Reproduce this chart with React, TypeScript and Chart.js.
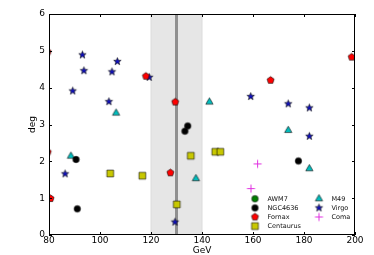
import React, { useEffect, useRef } from 'react';
import { Chart, registerables } from 'chart.js';
Chart.register(...registerables);

const FONT = 'DejaVu Sans';

const awm7X: number[] = [];
const awm7Y: number[] = [];
const ngc4636X = [90.6, 91.1, 134.4, 133.3, 177.8];
const ngc4636Y = [2.05, 0.71, 2.96, 2.82, 2.01];
const fornaxX = [79.5, 198.7, 80.6, 118.0, 129.5, 127.6, 166.9, 79.5];
const fornaxY = [4.97, 4.83, 0.99, 4.31, 3.61, 1.69, 4.2, 2.25];
const centaurusX = [104.0, 116.6, 130.1, 135.6, 145.2, 147.2];
const centaurusY = [1.67, 1.61, 0.83, 2.15, 2.26, 2.26];
const m49X = [88.6, 106.3, 142.9, 137.6, 173.8, 182.1];
const m49Y = [2.14, 3.31, 3.61, 1.53, 2.84, 1.8];
const virgoX = [93.1, 93.7, 89.3, 106.8, 104.7, 103.5, 119.3, 86.3, 129.4, 159.1, 173.8, 182.1, 182.1];
const virgoY = [4.89, 4.46, 3.91, 4.71, 4.43, 3.62, 4.28, 1.66, 0.35, 3.76, 3.56, 3.45, 2.68];
const comaX = [161.8, 159.2];
const comaY = [1.93, 1.26];

const BAND = [120, 140];
const LINE_AT = 130;
const X_TICKS = [80, 100, 120, 140, 160, 180, 200];
const Y_TICKS = [0, 1, 2, 3, 4, 5, 6];

const SERIES = [
  { label: 'AWM7', xs: awm7X, ys: awm7Y, kind: 'circle', color: '#008000' },
  { label: 'NGC4636', xs: ngc4636X, ys: ngc4636Y, kind: 'circle', color: '#000000' },
  { label: 'Fornax', xs: fornaxX, ys: fornaxY, kind: 'pentagon', color: '#ff0000' },
  { label: 'Centaurus', xs: centaurusX, ys: centaurusY, kind: 'square', color: '#c8c800' },
  { label: 'M49', xs: m49X, ys: m49Y, kind: 'triangle', color: '#00bfbf' },
  { label: 'Virgo', xs: virgoX, ys: virgoY, kind: 'star', color: '#1010c0' },
  { label: 'Coma', xs: comaX, ys: comaY, kind: 'plus', color: '#e030e0' },
];

function makeMarker(kind: string, fill: string): HTMLCanvasElement {
  const size = 11;
  const c = document.createElement('canvas');
  c.width = size;
  c.height = size;
  const ctx = c.getContext('2d')!;
  const cx = size / 2;
  const cy = size / 2;
  ctx.fillStyle = fill;
  ctx.strokeStyle = '#000';
  ctx.lineWidth = 0.6;
  ctx.beginPath();
  if (kind === 'circle') {
    ctx.arc(cx, cy, 3.2, 0, Math.PI * 2);
  } else if (kind === 'square') {
    ctx.rect(cx - 3.4, cy - 3.4, 6.8, 6.8);
  } else if (kind === 'triangle') {
    const r = 4.2;
    ctx.moveTo(cx, cy - r);
    ctx.lineTo(cx + r * 0.866, cy + r * 0.5);
    ctx.lineTo(cx - r * 0.866, cy + r * 0.5);
  } else if (kind === 'pentagon') {
    const r = 3.7;
    for (let i = 0; i < 5; i++) {
      const a = -Math.PI / 2 + (i * 2 * Math.PI) / 5;
      const px = cx + r * Math.cos(a);
      const py = cy + r * Math.sin(a);
      if (i === 0) ctx.moveTo(px, py);
      else ctx.lineTo(px, py);
    }
  } else if (kind === 'star') {
    const ro = 3.9;
    const ri = 1.6;
    for (let i = 0; i < 10; i++) {
      const a = -Math.PI / 2 + (i * Math.PI) / 5;
      const r = i % 2 === 0 ? ro : ri;
      const px = cx + r * Math.cos(a);
      const py = cy + r * Math.sin(a);
      if (i === 0) ctx.moveTo(px, py);
      else ctx.lineTo(px, py);
    }
  } else if (kind === 'plus') {
    ctx.strokeStyle = fill;
    ctx.lineWidth = 1;
    ctx.moveTo(cx - 4, cy);
    ctx.lineTo(cx + 4, cy);
    ctx.moveTo(cx, cy - 4);
    ctx.lineTo(cx, cy + 4);
    ctx.stroke();
    return c;
  }
  ctx.closePath();
  ctx.fill();
  ctx.stroke();
  return c;
}

export default function App() {
  const ref = useRef<HTMLCanvasElement | null>(null);
  useEffect(() => {
    if (!ref.current) return;
    const markers = SERIES.map((s) => makeMarker(s.kind, s.color));

    const bandPlugin = {
      id: 'band',
      beforeDatasetsDraw(chart: any) {
        const { ctx, chartArea } = chart;
        const xs = chart.scales.x;
        const x0 = xs.getPixelForValue(BAND[0]);
        const x1 = xs.getPixelForValue(BAND[1]);
        ctx.save();
        ctx.fillStyle = '#e6e6e6';
        ctx.fillRect(x0, chartArea.top, x1 - x0, chartArea.bottom - chartArea.top);
        ctx.strokeStyle = '#dcdcdc';
        ctx.lineWidth = 1;
        ctx.beginPath();
        ctx.moveTo(x0, chartArea.top);
        ctx.lineTo(x0, chartArea.bottom);
        ctx.moveTo(x1, chartArea.top);
        ctx.lineTo(x1, chartArea.bottom);
        ctx.stroke();
        const xl = xs.getPixelForValue(LINE_AT);
        ctx.strokeStyle = '#909090';
        ctx.lineWidth = 3;
        ctx.beginPath();
        ctx.moveTo(xl, chartArea.top);
        ctx.lineTo(xl, chartArea.bottom);
        ctx.stroke();
        ctx.restore();
      },
    };

    const framePlugin = {
      id: 'frame',
      afterDraw(chart: any) {
        const { ctx, chartArea } = chart;
        const { left, right, top, bottom } = chartArea;
        ctx.save();
        ctx.strokeStyle = '#000';
        ctx.lineWidth = 1;
        ctx.strokeRect(left + 0.5, top + 0.5, right - left - 1, bottom - top - 1);
        ctx.beginPath();
        const tl = 3;
        X_TICKS.forEach((v) => {
          const px = Math.round(chart.scales.x.getPixelForValue(v)) + 0.5;
          ctx.moveTo(px, bottom);
          ctx.lineTo(px, bottom - tl);
          ctx.moveTo(px, top);
          ctx.lineTo(px, top + tl);
        });
        Y_TICKS.forEach((v) => {
          const py = Math.round(chart.scales.y.getPixelForValue(v)) + 0.5;
          ctx.moveTo(left, py);
          ctx.lineTo(left + tl, py);
          ctx.moveTo(right, py);
          ctx.lineTo(right - tl, py);
        });
        ctx.stroke();

        // legend
        ctx.font = `6.5px "${FONT}"`;
        ctx.fillStyle = '#111';
        ctx.textBaseline = 'middle';
        ctx.textAlign = 'left';
        const rowH = 9.1;
        const y0 = bottom - 36.2;
        chart.data.datasets.forEach((ds: any, i: number) => {
          const col = i < 4 ? 0 : 1;
          const row = i < 4 ? i : i - 4;
          const mx = right - 100 + col * 64;
          const my = y0 + row * rowH;
          const m = markers[i];
          ctx.drawImage(m, mx - m.width / 2, my - m.height / 2);
          ctx.fillText(ds.label, mx + 12.5, my + 0.5);
        });
        ctx.restore();
      },
    };

    const chart = new Chart(ref.current, {
      type: 'scatter',
      data: {
        datasets: SERIES.map((s, i) => ({
          label: s.label,
          data: s.xs.map((x, j) => ({ x, y: s.ys[j] })),
          pointStyle: markers[i] as any,
          pointRadius: 4,
          clip: 0,
        })),
      },
      options: {
        animation: false,
        responsive: true,
        maintainAspectRatio: false,
        layout: { padding: { left: 0, right: 19, top: 14, bottom: 0 } },
        plugins: { legend: { display: false }, tooltip: { enabled: false } },
        scales: {
          x: {
            type: 'linear',
            min: 80,
            max: 200,
            afterFit: (s: any) => {
              s.height = 20;
            },
            afterBuildTicks: (s: any) => {
              s.ticks = X_TICKS.map((v) => ({ value: v }));
            },
            ticks: { padding: 0, color: '#000', font: { family: FONT, size: 9 }, maxRotation: 0 },
            grid: { display: false, drawTicks: false, tickLength: 0 },
            border: { display: false },
            title: {
              display: true,
              text: 'GeV',
              color: '#000',
              font: { family: FONT, size: 9, lineHeight: 1 },
              padding: 0,
            },
          },
          y: {
            type: 'linear',
            min: 0,
            max: 6,
            afterFit: (s: any) => {
              s.width = 49;
            },
            afterBuildTicks: (s: any) => {
              s.ticks = Y_TICKS.map((v) => ({ value: v }));
            },
            ticks: { padding: 4, color: '#000', font: { family: FONT, size: 9 } },
            grid: { display: false, drawTicks: false, tickLength: 0 },
            border: { display: false },
            title: {
              display: true,
              text: 'deg',
              color: '#000',
              font: { family: FONT, size: 9, lineHeight: 1 },
              padding: { top: 28.5, bottom: 0 },
            },
          },
        },
      },
      plugins: [bandPlugin, framePlugin],
    } as any);
    return () => chart.destroy();
  }, []);

  return (
    <div style={{ position: 'absolute', left: 0, top: 0, width: 374, height: 255, background: '#fff' }}>
      <canvas ref={ref} />
    </div>
  );
}
